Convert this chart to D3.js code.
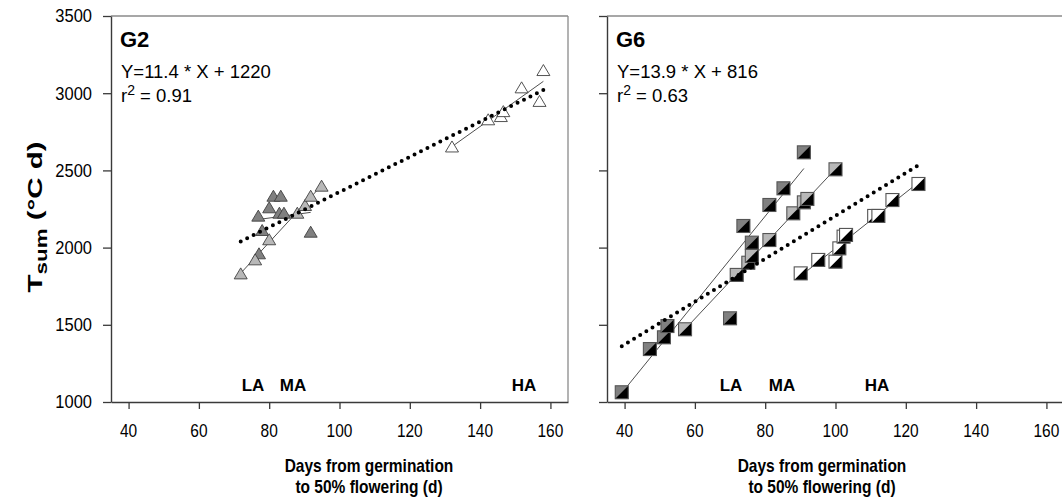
<!DOCTYPE html>
<html><head><meta charset="utf-8">
<script src="https://cdn.jsdelivr.net/npm/d3@7/dist/d3.min.js"></script>
<style>
body{margin:0;background:#fff}
text{font-family:Arial,"Liberation Sans",sans-serif;fill:#000}
</style>
</head><body>
<svg id="chart" width="1062" height="499"></svg>
<script>
// ---- data ----
const yTicks = [1000, 1500, 2000, 2500, 3000, 3500];
const xTicks = [40, 60, 80, 100, 120, 140, 160];
const groupNames = ["LA", "MA", "HA"];

// G2 (triangles)
const g2LA_x = [77.1, 78.0, 76.9, 80.0, 81.2, 83.3, 82.9, 84.2, 91.8];
const g2LA_y = [1963, 2114, 2207, 2261, 2336, 2336, 2226, 2226, 2103];
const g2MA_x = [71.9, 76.0, 80.0, 88.0, 90.2, 91.8, 94.9];
const g2MA_y = [1833, 1924, 2054, 2226, 2276, 2336, 2401];
const g2HA_x = [132.0, 142.3, 145.9, 146.6, 151.8, 156.9, 158.0];
const g2HA_y = [2655, 2831, 2852, 2884, 3038, 2950, 3150];
const g2Fit = [11.4, 1220];      // slope, intercept
const g2R2 = "0.91";

// G6 (half-filled squares)
const g6LA_x = [39.2, 47.2, 51.2, 52.2, 70.0, 73.8, 76.2, 81.2, 85.2, 91.0];
const g6LA_y = [1063, 1343, 1419, 1492, 1542, 2140, 2032, 2276, 2384, 2617];
const g6MA_x = [57.2, 71.9, 75.2, 76.2, 81.2, 88.0, 91.0, 92.0, 100.0];
const g6MA_y = [1471, 1823, 1902, 1946, 2049, 2222, 2293, 2315, 2507];
const g6HA_x = [90.1, 95.1, 100.0, 101.1, 102.3, 103.0, 111.0, 112.2, 116.2, 123.6];
const g6HA_y = [1833, 1920, 1909, 1995, 2071, 2082, 2205, 2205, 2308, 2412];
const g6Fit = [13.9, 816];
const g6R2 = "0.63";

// ---- layout ----
const SY = 1.15; // vertical text stretch seen in the reference
const groupFill = {LA: "#808080", MA: "#b8b8b8", HA: "#ffffff"};
const svg = d3.select("#chart");
const y = d3.scaleLinear().domain([1000, 3500]).range([402, 16]);

const panels = [
  {name: "G2", left: 111, right: 568, marker: "tri", fit: g2Fit, r2: g2R2, ylabels: true,
   groups: [[g2LA_x, g2LA_y], [g2MA_x, g2MA_y], [g2HA_x, g2HA_y]],
   tags: [{t: "LA", x: 253}, {t: "MA", x: 293}, {t: "HA", x: 524}], titleX: 369},
  {name: "G6", left: 607, right: 1064, marker: "sq", fit: g6Fit, r2: g6R2, ylabels: false,
   groups: [[g6LA_x, g6LA_y], [g6MA_x, g6MA_y], [g6HA_x, g6HA_y]],
   tags: [{t: "LA", x: 731}, {t: "MA", x: 782}, {t: "HA", x: 877}], titleX: 822}
];

function linfit(xs, ys) {
  const mx = d3.mean(xs), my = d3.mean(ys);
  let sxy = 0, sxx = 0;
  xs.forEach((v, i) => { sxy += (v - mx) * (ys[i] - my); sxx += (v - mx) * (v - mx); });
  const b = sxy / sxx;
  return [b, my - b * mx];
}

function stretchedText(parent, x, yy, txt, size, bold, anchor) {
  return parent.append("text")
    .attr("transform", `translate(${x},${yy}) scale(1,${SY})`)
    .attr("text-anchor", anchor || "start")
    .attr("font-size", size).attr("font-weight", bold ? "bold" : "normal")
    .text(txt);
}

panels.forEach(p => {
  const x = d3.scaleLinear().domain([35, 165]).range([p.left, p.right]);
  const g = svg.append("g");

  // frame (top & right)
  g.append("line").attr("x1", p.left).attr("x2", p.right).attr("y1", 16).attr("y2", 16)
    .attr("stroke", "#8a8a8a").attr("stroke-width", 1.3);
  g.append("line").attr("x1", p.right).attr("x2", p.right).attr("y1", 16).attr("y2", 402)
    .attr("stroke", "#8a8a8a").attr("stroke-width", 1.3);

  // axes (lines & ticks)
  const ya = d3.axisLeft(y).tickValues(yTicks).tickSize(8).tickSizeOuter(0).tickFormat("");
  const yg = g.append("g").attr("transform", `translate(${p.left},0)`).call(ya);
  const xa = d3.axisBottom(x).tickValues(xTicks).tickSize(7).tickSizeOuter(0).tickFormat("");
  const xg = g.append("g").attr("transform", "translate(0,402)").call(xa);
  [yg, xg].forEach(a => {
    a.select(".domain").attr("stroke", "#3a3a3a").attr("stroke-width", 1.4);
    a.selectAll(".tick line").attr("stroke", "#3a3a3a").attr("stroke-width", 1.3);
  });
  // tick labels
  if (p.ylabels) {
    yTicks.forEach(v => stretchedText(g, p.left - 19, y(v) + 6.3, d3.format("d")(v), 16.5, false, "end"));
  }
  xTicks.forEach(v => stretchedText(g, x(v), 437, String(v), 15.5, false, "middle"));

  // group regression lines
  p.groups.forEach(([xs, ys]) => {
    const [b, a] = linfit(xs, ys);
    const x0 = d3.min(xs), x1 = d3.max(xs);
    g.append("line").attr("x1", x(x0)).attr("y1", y(a + b * x0))
      .attr("x2", x(x1)).attr("y2", y(a + b * x1))
      .attr("stroke", "#505050").attr("stroke-width", 1);
  });

  // markers
  p.groups.forEach(([xs, ys], gi) => {
    const fill = groupFill[groupNames[gi]];
    xs.forEach((v, i) => {
      const cx = x(v), cy = y(ys[i]);
      if (p.marker === "tri") {
        const s = 6.5, h = 11;
        g.append("path")
          .attr("d", `M${cx},${cy - h / 2}L${cx + s},${cy + h / 2}L${cx - s},${cy + h / 2}Z`)
          .attr("fill", fill).attr("stroke", "#404040").attr("stroke-width", 0.9);
      } else {
        const s = 6.5;
        g.append("rect").attr("x", cx - s).attr("y", cy - s).attr("width", 2 * s).attr("height", 2 * s)
          .attr("fill", fill);
        g.append("path").attr("d", `M${cx + s},${cy - s}L${cx + s},${cy + s}L${cx - s},${cy + s}Z`)
          .attr("fill", "#000");
        g.append("rect").attr("x", cx - s).attr("y", cy - s).attr("width", 2 * s).attr("height", 2 * s)
          .attr("fill", "none").attr("stroke", "#555").attr("stroke-width", 1.1);
      }
    });
  });

  // overall dotted regression
  const allX = p.groups.flatMap(gp => gp[0]);
  const xa0 = d3.min(allX), xa1 = d3.max(allX);
  g.append("line").attr("x1", x(xa0)).attr("y1", y(p.fit[1] + p.fit[0] * xa0))
    .attr("x2", x(xa1)).attr("y2", y(p.fit[1] + p.fit[0] * xa1))
    .attr("stroke", "#000").attr("stroke-width", 4).attr("stroke-linecap", "round")
    .attr("stroke-dasharray", "0 7.2");

  // panel label & equation
  g.append("text").attr("x", p.left + 9).attr("y", 47).attr("font-size", 22).attr("font-weight", "bold").text(p.name);
  g.append("text").attr("x", p.left + 10).attr("y", 78).attr("font-size", 18.5)
    .text(`Y=${p.fit[0]} * X + ${p.fit[1]}`);
  const r = g.append("text").attr("x", p.left + 10).attr("y", 102).attr("font-size", 18.5);
  r.append("tspan").text("r");
  r.append("tspan").attr("dy", -7).attr("font-size", 14).text("2");
  r.append("tspan").attr("dy", 7).text(` = ${p.r2}`);

  // group tags
  p.tags.forEach(t => g.append("text").attr("x", t.x).attr("y", 391).attr("text-anchor", "middle")
    .attr("font-size", 17).attr("font-weight", "bold").text(t.t));

  // x title
  stretchedText(g, p.titleX, 472, "Days from germination", 15.5, true, "middle");
  stretchedText(g, p.titleX, 493, "to 50% flowering (d)", 15.5, true, "middle");
});

// y title
const yt = svg.append("text").attr("transform", `translate(42,217) rotate(-90) scale(1.4,1)`)
  .attr("text-anchor", "middle").attr("font-size", 21).attr("font-weight", "bold");
yt.append("tspan").text("T");
yt.append("tspan").attr("dy", 5).attr("font-size", 16).text("sum");
yt.append("tspan").attr("dy", -5).text(" (°C d)");
</script>
</body></html>
